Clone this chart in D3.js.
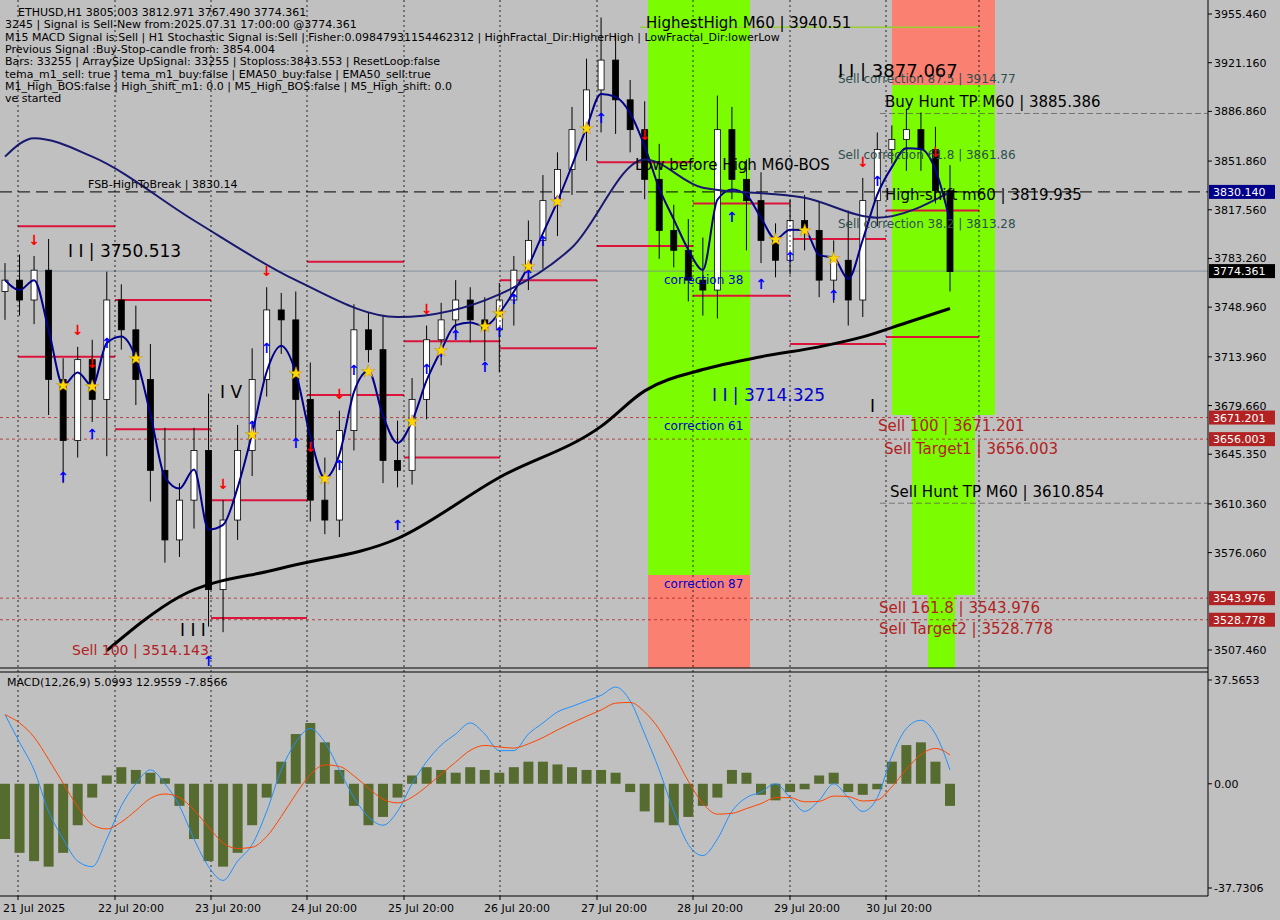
<!DOCTYPE html><html><head><meta charset="utf-8">
<script src="https://cdn.jsdelivr.net/npm/d3@7/dist/d3.min.js"></script>
<style>body{margin:0;background:#c0c0c0}svg{display:block}text{font-family:"DejaVu Sans",sans-serif}</style></head><body>
<svg id="c" width="1280" height="920"></svg>
<script>
const closes=[3768,3754,3775,3698,3655,3712,3684,3754,3733,3698,
3634,3585,3613,3648,3550,3599,3648,3698,3747,3740,
3684,3613,3599,3662,3733,3719,3641,3634,3684,3726,
3740,3754,3740,3733,3754,3775,3796,3824,3846,3874,
3902,3923,3895,3874,3839,3803,3789,3768,3761,3874,
3839,3824,3796,3782,3810,3803,3768,3782,3754,3824,
3860,3867,3874,3860,3831,3774];
const wicks=[12,18,10,22,15,9,14,20,11,17,25,30,12,16,40,14,18,22,16,12,20,26,30,14,18,12,24,28,15,10,12,14,9,16,12,10,14,18,12,16,22,30,18,14,20,25,18,22,30,24,16,14,20,12,15,18,20,14,35,16,12,10,14,12,16,18];
const macd=[25,15,5,-10,-20,-28,-30,-20,-8,0,5,0,-8,-20,-30,-35,-28,-22,-10,5,15,20,15,5,-5,-12,-15,-10,0,8,14,18,22,18,12,12,18,22,26,28,30,32,35,30,18,5,-10,-22,-26,-20,-10,-5,-3,0,-5,-10,-6,0,-5,-10,-5,10,20,23,18,5];
const hist=[-20,-25,-28,-30,-25,-15,-5,3,6,5,4,2,-8,-20,-28,-30,-25,-15,-5,8,18,22,15,5,-8,-15,-12,-5,3,6,5,4,6,5,4,6,8,8,7,6,5,5,4,-3,-10,-14,-15,-12,-8,-5,5,4,-4,-6,-3,-2,3,4,-3,-4,-2,8,14,15,8,-8];
const ma200=[[7,3507],[12,3545],[19,3565],[27,3586],[34,3629],[41,3665],[44,3690],[48,3705],[52,3714],[56,3721],[59,3728],[62,3738],[65,3748]];
const slowMA=[[0,3855],[2,3868],[6,3855],[13,3810],[20,3768],[27,3742],[34,3758],[39,3791],[44,3853],[48,3833],[55,3826],[60,3812],[65,3830]];
const priceTicks=[3955.460,3921.160,3886.860,3851.860,3817.560,3783.260,3748.960,3713.960,3679.660,3645.350,3610.360,3576.060,3507.460];
const dayLabels=["21 Jul 2025","22 Jul 20:00","23 Jul 20:00","24 Jul 20:00","25 Jul 20:00","26 Jul 20:00","27 Jul 20:00","28 Jul 20:00","29 Jul 20:00","30 Jul 20:00"];
const daySep=[18,115,211,307,404,500,597,693,790,886,979];
const srLevels=[[0,3806],[1,3754],[0,3714],[1,3663],[2,3613],[2,3530],[3,3781],[3,3687],[4,3725],[4,3643],[5,3768],[5,3720],[6,3851],[6,3792],[7,3822],[7,3757],[8,3797],[8,3723],[9,3817],[9,3728]];
const upArrows=[4,6,7,14,17,18,20,23,24,27,29,30,31,33,34,35,36,37,38,41,50,52,54,57,60];
const downArrows=[2,5,6,15,18,21,23,29,44,59,64];
const stars=[4,6,9,17,20,22,25,28,30,33,34,36,38,40,53,55,57];
const levels=[{v:3671.201,c:"#b22222",t:"3671.201"},{v:3656.003,c:"#b22222",t:"3656.003"},{v:3543.976,c:"#b22222",t:"3543.976"},{v:3528.778,c:"#b22222",t:"3528.778"}];

const svg=d3.select("#c");
const W=1208, y=d3.scaleLinear().domain([3507.46,3955.46]).range([650,14]);
const x=d3.scaleLinear().domain([0,closes.length-1]).range([5,950]);
const ym=d3.scaleLinear().domain([-37.73,37.5653]).range([888,680]);
const main=svg.append("g");
// zones
const zone=(x0,x1,p0,p1,c)=>main.append("rect").attr("x",x0).attr("width",x1-x0).attr("y",p0).attr("height",p1-p0).attr("fill",c);
zone(648,750,0,575,"#7cfc00");zone(648,750,575,668,"#fa8072");
zone(892,995,0,85,"#fa8072");zone(892,995,85,415,"#7cfc00");zone(912,975,415,595,"#7cfc00");zone(928,955,595,668,"#7cfc00");
// day separators
daySep.forEach(d=>svg.append("line").attr("x1",d).attr("x2",d).attr("y1",0).attr("y2",896).attr("stroke","#000").attr("stroke-dasharray","2,3").attr("stroke-width",0.8));
svg.append("line").attr("x1",0).attr("x2",W).attr("y1",668).attr("y2",668).attr("stroke","#000");
svg.append("line").attr("x1",0).attr("x2",W).attr("y1",672).attr("y2",672).attr("stroke","#000");
svg.append("line").attr("x1",0).attr("x2",W).attr("y1",896).attr("y2",896).attr("stroke","#000");
svg.append("line").attr("x1",W).attr("x2",W).attr("y1",0).attr("y2",896).attr("stroke","#000");
// horizontal levels
main.append("line").attr("x1",0).attr("x2",W).attr("y1",y(3830.14)).attr("y2",y(3830.14)).attr("stroke","#000").attr("stroke-dasharray","12,6");
main.append("line").attr("x1",0).attr("x2",W).attr("y1",y(3774.361)).attr("y2",y(3774.361)).attr("stroke","#778899").attr("stroke-width",0.8);
levels.forEach(l=>main.append("line").attr("x1",0).attr("x2",W).attr("y1",y(l.v)).attr("y2",y(l.v)).attr("stroke",l.c).attr("stroke-dasharray","3,3").attr("stroke-width",0.8));
[[3885.386],[3610.854]].forEach(l=>main.append("line").attr("x1",880).attr("x2",W).attr("y1",y(l[0])).attr("y2",y(l[0])).attr("stroke","#555").attr("stroke-dasharray","6,3").attr("stroke-width",0.7));
main.append("line").attr("x1",640).attr("x2",980).attr("y1",y(3940.51)-8).attr("y2",y(3940.51)-8).attr("stroke","#9acd32").attr("stroke-width",1.5);
// SR segments
srLevels.forEach(s=>main.append("line").attr("x1",daySep[s[0]]).attr("x2",daySep[s[0]+1]).attr("y1",y(s[1])).attr("y2",y(s[1])).attr("stroke","#dc143c").attr("stroke-width",2));
// candles
const cw=6;
closes.forEach((c,i)=>{const o=i?closes[i-1]:3760;const hi=Math.max(o,c)+wicks[i],lo=Math.min(o,c)-wicks[(i+7)%wicks.length];
 main.append("line").attr("x1",x(i)).attr("x2",x(i)).attr("y1",y(hi)).attr("y2",y(lo)).attr("stroke","#000");
 main.append("rect").attr("x",x(i)-cw/2).attr("width",cw).attr("y",y(Math.max(o,c))).attr("height",Math.max(1,Math.abs(y(o)-y(c)))).attr("fill",c>=o?"#fff":"#000").attr("stroke","#000").attr("stroke-width",0.8);});
// EMAs
const ema=(a,k)=>{let r=[],p=a[0];a.forEach(v=>{p=p+k*(v-p);r.push(p)});return r};
const fast=ema(closes,0.5);
const ln=d3.line().curve(d3.curveMonotoneX);
main.append("path").attr("d",ln(fast.map((v,i)=>[x(i),y(v)]))).attr("fill","none").attr("stroke","#00008b").attr("stroke-width",2);
main.append("path").attr("d",ln(slowMA.map(d=>[x(d[0]),y(d[1])]))).attr("fill","none").attr("stroke","#191970").attr("stroke-width",2);
main.append("path").attr("d",ln(ma200.map(d=>[x(d[0]),y(d[1])]))).attr("fill","none").attr("stroke","#000").attr("stroke-width",3);
// markers
upArrows.forEach(i=>main.append("text").attr("x",x(i)).attr("y",y(closes[i]-wicks[i]-14)).attr("text-anchor","middle").attr("font-size",14).attr("font-weight","bold").attr("fill","#0000ff").text("↑"));
downArrows.forEach(i=>main.append("text").attr("x",x(i)).attr("y",y(closes[i]+wicks[i]+8)).attr("text-anchor","middle").attr("font-size",14).attr("font-weight","bold").attr("fill","#ff0000").text("↓"));
stars.forEach(i=>main.append("text").attr("x",x(i)).attr("y",y(fast[i])+6).attr("text-anchor","middle").attr("font-size",17).attr("fill","#ffd700").attr("stroke","#b8860b").attr("stroke-width",0.4).text("★"));
// texts
const T=(tx,ty,s,sz,c,a)=>svg.append("text").attr("x",tx).attr("y",ty).attr("font-size",sz).attr("fill",c||"#000").attr("text-anchor",a||"start").text(s);
["ETHUSD,H1  3805.003 3812.971 3767.490 3774.361","3245 | Signal is Sell-New from:2025.07.31 17:00:00 @3774.361","M15 MACD Signal is:Sell | H1 Stochastic Signal is:Sell | Fisher:0.09847931154462312 | HighFractal_Dir:HigherHigh | LowFractal_Dir:lowerLow","Previous Signal :Buy-Stop-candle from: 3854.004","Bars: 33255 | ArraySize UpSignal: 33255 | Stoploss:3843.553 | ResetLoop:false","tema_m1_sell: true | tema_m1_buy:false | EMA50_buy:false | EMA50_sell:true","M1_High_BOS:false | High_shift_m1: 0.0 | M5_High_BOS:false | M5_High_shift: 0.0","ve started"].forEach((s,i)=>T(i==0?18:5,16+i*12.3,s,11));
T(88,188,"FSB-HighToBreak | 3830.14",11);
T(68,257,"I I | 3750.513",17);
T(220,398,"I V",17);
T(180,636,"I I I",17);
T(72,655,"Sell 100 | 3514.143",14,"#b22222");
T(646,28,"HighestHigh   M60 | 3940.51",15);
T(635,170,"Low before High  M60-BOS",15);
T(712,401,"I I | 3714.325",17,"#0000cd");
T(664,284,"correction 38",12,"#0000cd");
T(664,430,"correction 61",12,"#0000cd");
T(664,588,"correction 87",12,"#0000cd");
T(838,83,"Sell correction 87.5 | 3914.77",12,"#2f4f4f");
T(838,77,"I I | 3877.067",18);
T(885,107,"Buy Hunt TP M60 | 3885.386",15);
T(838,159,"Sell correction 61.8 | 3861.86",12,"#2f4f4f");
T(885,200,"High-shift m60 | 3819.935",15);
T(838,228,"Sell correction 38.2 | 3813.28",12,"#2f4f4f");
T(870,412,"I",17);
T(878,431,"Sell 100 | 3671.201",15,"#b22222");
T(884,454,"Sell Target1 | 3656.003",15,"#b22222");
T(890,497,"Sell Hunt TP M60 | 3610.854",15);
T(879,613,"Sell 161.8 | 3543.976",15,"#b22222");
T(879,634,"Sell Target2 | 3528.778",15,"#b22222");
// right axis
priceTicks.forEach(p=>{svg.append("line").attr("x1",W).attr("x2",W+4).attr("y1",y(p)).attr("y2",y(p)).attr("stroke","#000");T(1214,y(p)+4,p.toFixed(3),11);});
const box=(v,bg,fg,t)=>{svg.append("rect").attr("x",W+1).attr("y",y(v)-7).attr("width",66).attr("height",14).attr("fill",bg);T(1213,y(v)+4,t,11,fg);};
box(3830.14,"#00008b","#fff","3830.140");box(3774.361,"#000","#fff","3774.361");
levels.forEach(l=>box(l.v,l.c,"#fff",l.t));
// MACD
const sig=ema(macd,0.3);
T(7,686,"MACD(12,26,9) 5.0993 12.9559 -7.8566",11);
[[37.5653,"37.5653"],[0,"0.00"],[-37.73,"-37.7306"]].forEach(d=>{svg.append("line").attr("x1",W).attr("x2",W+4).attr("y1",ym(d[0])).attr("y2",ym(d[0])).attr("stroke","#000");T(1214,ym(d[0])+4,d[1],11);});
hist.forEach((h,i)=>svg.append("rect").attr("x",x(i)-5).attr("width",10).attr("y",Math.min(ym(0),ym(h))).attr("height",Math.abs(ym(h)-ym(0))).attr("fill","#556b2f"));
svg.append("path").attr("d",ln(macd.map((v,i)=>[x(i),ym(v)]))).attr("fill","none").attr("stroke","#1e90ff").attr("stroke-width",1);
svg.append("path").attr("d",ln(sig.map((v,i)=>[x(i),ym(v)]))).attr("fill","none").attr("stroke","#ff4500").attr("stroke-width",1);
// bottom labels
const lx=[3,98,195,291,388,484,581,677,774,866];
dayLabels.forEach((s,i)=>{T(lx[i],912,s,11);svg.append("line").attr("x1",daySep[i]).attr("x2",daySep[i]).attr("y1",896).attr("y2",900).attr("stroke","#000");});
</script></body></html>
